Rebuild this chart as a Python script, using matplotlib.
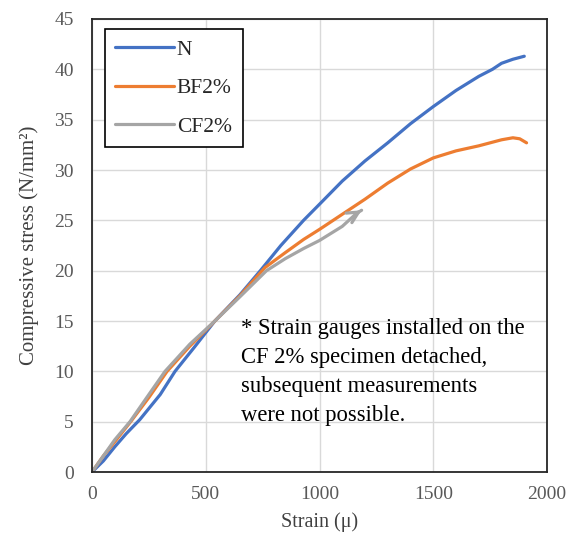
import matplotlib
matplotlib.use("Agg")
import matplotlib.pyplot as plt

plt.rcParams["font.family"] = ["Liberation Serif", "DejaVu Serif"]

# series
strain_n = [0, 50, 100, 150, 210, 300, 365, 450, 540, 650, 740, 830, 930, 1000,
            1100, 1200, 1300, 1400, 1500, 1600, 1700, 1760, 1800, 1850, 1900]
stress_n = [0, 1.1, 2.5, 3.8, 5.2, 7.7, 10.0, 12.4, 15.0, 17.6, 20.0, 22.5, 25.0, 26.6,
            28.9, 30.9, 32.7, 34.6, 36.3, 37.9, 39.3, 40.0, 40.6, 41.0, 41.3]

strain_bf = [0, 50, 100, 170, 250, 330, 430, 540, 650, 760, 850, 930, 1000,
             1100, 1200, 1300, 1400, 1500, 1600, 1700, 1800, 1850, 1880, 1910]
stress_bf = [0, 1.6, 3.0, 5.0, 7.4, 10.0, 12.5, 15.0, 17.5, 20.3, 21.8, 23.1, 24.1,
             25.6, 27.1, 28.7, 30.1, 31.2, 31.9, 32.4, 33.0, 33.2, 33.1, 32.7]

strain_cf = [0, 50, 100, 167, 250, 321, 430, 540, 650, 767, 850, 930, 1000,
             1100, 1163, 1185]
stress_cf = [0, 1.6, 3.2, 5.0, 7.7, 10.0, 12.7, 15.0, 17.4, 20.0, 21.2, 22.2, 23.0,
             24.4, 25.7, 26.0]

series = [
    ("N", strain_n, stress_n, "#4472C4"),
    ("BF2%", strain_bf, stress_bf, "#ED7D31"),
    ("CF2%", strain_cf, stress_cf, "#A5A5A5"),
]

note = ("* Strain gauges installed on the\n"
        "CF 2% specimen detached,\n"
        "subsequent measurements\n"
        "were not possible.")

fig = plt.figure(figsize=(5.76, 5.41), dpi=100)
ax = fig.add_axes([0.1597, 0.1275, 0.79, 0.8374])

for name, xs, ys, color in series:
    ax.plot(xs, ys, color=color, linewidth=2.3, label=name, solid_capstyle="round")

# arrow head at the end of the CF2% curve
ax.annotate("", xy=(strain_cf[-1], stress_cf[-1]), xytext=(strain_cf[-2], stress_cf[-2]),
            arrowprops=dict(arrowstyle="->", color="#A5A5A5", lw=2.3,
                            mutation_scale=20, shrinkA=0, shrinkB=0))

ax.set_xlim(0, 2000)
ax.set_ylim(0, 45)
ax.set_xticks(range(0, 2001, 500))
ax.set_yticks(range(0, 46, 5))
ax.grid(True, color="#D9D9D9", linewidth=1.0)
ax.set_axisbelow(True)
ax.tick_params(length=0, labelsize=14, labelcolor="#595959")
ax.tick_params(axis="y", pad=13)
ax.tick_params(axis="x", pad=10)
for sp in ax.spines.values():
    sp.set_color("#262626")
    sp.set_linewidth(1.3)

ax.set_xlabel("Strain (\u03bc)", fontsize=14.5, color="#404040", labelpad=7)
ax.set_ylabel("Compressive stress (N/mm\u00b2)", fontsize=15, color="#404040", labelpad=11)

ax.text(655, 15.3, note, fontsize=16.3, va="top", ha="left", linespacing=1.5, color="black")

leg = ax.legend(loc="upper left", bbox_to_anchor=(0.028, 0.978), fontsize=15.5,
                frameon=True, fancybox=False, edgecolor="black", framealpha=1,
                labelspacing=0.85, handlelength=2.7, handletextpad=0.15,
                borderpad=0.5, borderaxespad=0)
leg.get_frame().set_linewidth(1.2)
for t in leg.get_texts():
    t.set_color("#262626")

fig.savefig("out.png", dpi=100)
